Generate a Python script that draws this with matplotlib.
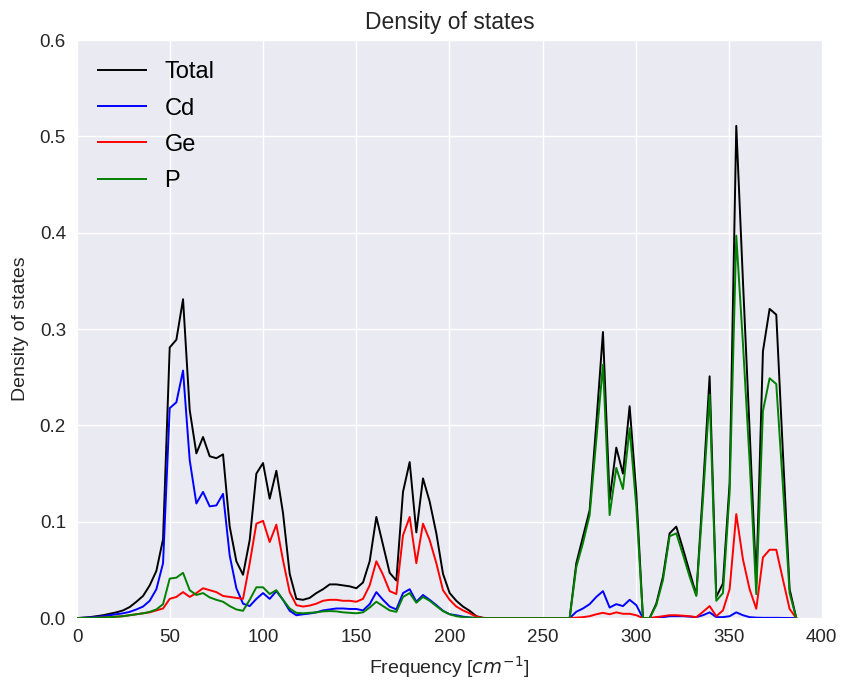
import numpy as np
import matplotlib
matplotlib.use('Agg')
import matplotlib.pyplot as plt

# frequency grid of the DOS file (cm^-1), 109 points
freq_start = -0.35
freq_step = 3.58
n_points = 109

total = [0, 0.0005, 0.001, 0.002, 0.003, 0.0045, 0.006, 0.008, 0.0115, 0.017, 0.023, 0.034, 0.049, 0.082,
         0.281, 0.289, 0.331, 0.216, 0.171, 0.188, 0.168, 0.166, 0.170, 0.095, 0.059, 0.045, 0.081, 0.150, 0.161,
         0.124, 0.153, 0.109, 0.046, 0.020, 0.019, 0.021, 0.026, 0.030, 0.035, 0.035, 0.034, 0.033, 0.031,
         0.037, 0.059, 0.105, 0.076, 0.047, 0.039, 0.131, 0.162, 0.089, 0.145, 0.121, 0.088, 0.046, 0.026, 0.018,
         0.012, 0.0076, 0.002, 0.0003,
         0, 0, 0, 0, 0, 0, 0, 0, 0, 0, 0, 0, 0,
         0.057, 0.0845, 0.112, 0.202, 0.297, 0.123, 0.177, 0.150, 0.220, 0.130,
         0, 0,
         0.015, 0.043, 0.088, 0.095, 0.072, 0.048, 0.024, 0.133, 0.251, 0.022, 0.036, 0.140,
         0.511, 0.350, 0.195, 0.036, 0.277, 0.321, 0.315, 0.171, 0.030, 0]

cd = [0, 0.0003, 0.0007, 0.0013, 0.002, 0.003, 0.004, 0.005, 0.0065, 0.009, 0.012, 0.018, 0.030, 0.057,
      0.218, 0.224, 0.257, 0.164, 0.119, 0.131, 0.116, 0.117, 0.129, 0.065, 0.031, 0.015, 0.0125, 0.020, 0.026,
      0.020, 0.028, 0.019, 0.0076, 0.003, 0.004, 0.0048, 0.006, 0.008, 0.009, 0.010, 0.010, 0.0095, 0.0095,
      0.008, 0.0145, 0.027, 0.019, 0.012, 0.009, 0.026, 0.030, 0.017, 0.024, 0.019, 0.0135, 0.0076, 0.004, 0.003,
      0.0015, 0.0007, 0.0002, 0,
      0, 0, 0, 0, 0, 0, 0, 0, 0, 0, 0, 0, 0,
      0.0066, 0.010, 0.0145, 0.022, 0.028, 0.011, 0.0145, 0.0125, 0.019, 0.0135,
      0, 0,
      0.0005, 0.001, 0.002, 0.002, 0.002, 0.0015, 0.001, 0.003, 0.006, 0.001, 0.001, 0.002,
      0.006, 0.003, 0.001, 0.0005, 0.0003, 0.0003, 0.0003, 0.0002, 0.0001, 0]

ge = [0, 0.0001, 0.0002, 0.0004, 0.0006, 0.001, 0.0015, 0.002, 0.003, 0.004, 0.005, 0.006, 0.008, 0.010,
      0.020, 0.022, 0.027, 0.022, 0.026, 0.031, 0.029, 0.027, 0.023, 0.022, 0.021, 0.020, 0.057, 0.098, 0.101,
      0.079, 0.097, 0.060, 0.027, 0.0135, 0.012, 0.013, 0.015, 0.018, 0.019, 0.019, 0.018, 0.018, 0.017,
      0.020, 0.034, 0.059, 0.045, 0.028, 0.025, 0.086, 0.105, 0.057, 0.098, 0.081, 0.057, 0.029, 0.019, 0.012,
      0.008, 0.005, 0.0015, 0.0002,
      0, 0, 0, 0, 0, 0, 0, 0, 0, 0, 0, 0, 0,
      0.0005, 0.001, 0.002, 0.004, 0.0055, 0.004, 0.006, 0.0045, 0.0045, 0.003,
      0, 0,
      0.001, 0.002, 0.003, 0.003, 0.0025, 0.002, 0.001, 0.0065, 0.0125, 0.002, 0.008, 0.030,
      0.108, 0.061, 0.030, 0.0097, 0.063, 0.071, 0.071, 0.040, 0.0095, 0]

p = [0, 0.0001, 0.0002, 0.0004, 0.0006, 0.001, 0.0015, 0.002, 0.003, 0.004, 0.005, 0.0065, 0.009, 0.0145,
     0.041, 0.042, 0.047, 0.029, 0.024, 0.026, 0.0215, 0.019, 0.017, 0.0125, 0.009, 0.0076, 0.019, 0.032, 0.032,
     0.025, 0.029, 0.019, 0.010, 0.0055, 0.005, 0.0055, 0.006, 0.007, 0.0073, 0.007, 0.006, 0.0055, 0.005,
     0.006, 0.011, 0.017, 0.0125, 0.008, 0.0065, 0.022, 0.026, 0.016, 0.022, 0.018, 0.0125, 0.0073, 0.004, 0.002,
     0.001, 0.0005, 0.0002, 0,
     0, 0, 0, 0, 0, 0, 0, 0, 0, 0, 0, 0, 0,
     0.053, 0.078, 0.107, 0.185, 0.263, 0.107, 0.156, 0.134, 0.197, 0.116,
     0, 0,
     0.0135, 0.0395, 0.085, 0.088, 0.066, 0.043, 0.023, 0.123, 0.232, 0.018, 0.026, 0.130,
     0.397, 0.285, 0.163, 0.025, 0.215, 0.249, 0.243, 0.137, 0.026, 0]

labels = ['Total', 'Cd', 'Ge', 'P']
colors = ['k', 'b', 'r', 'g']

freq = freq_start + freq_step*np.arange(n_points)

plt.rcParams['font.family'] = ['Liberation Sans', 'DejaVu Sans']

fig = plt.figure(figsize=(8.42, 6.8), dpi=100)
ax = fig.add_axes([0.0915, 0.091, 0.8845, 0.850])
ax.set_facecolor('#EAEAF2')
for s in ax.spines.values():
    s.set_visible(False)
ax.grid(True, color='white', linewidth=1.0)
ax.set_axisbelow(True)

for y, lab, c in zip([total, cd, ge, p], labels, colors):
    ax.plot(freq, y, color=c, label=lab, linewidth=1.4)

ax.set_xlim(0, 400)
ax.set_ylim(0, 0.6)
ax.set_xticks(np.arange(0, 401, 50))
ax.set_yticks(np.arange(0, 0.61, 0.1))
ax.set_yticklabels(['%.1f' % v for v in np.arange(0, 0.61, 0.1)])
ax.tick_params(length=0, labelsize=13.5, colors='#262626', pad=8)

ax.set_title('Density of states', fontsize=16.5, color='#262626', pad=8)
ax.set_xlabel('Frequency [$cm^{-1}$]', fontsize=14, color='#262626', labelpad=6)
ax.set_ylabel('Density of states', fontsize=14, color='#262626', labelpad=8)

ax.legend(loc='upper left', frameon=False, fontsize=17, handlelength=2.0,
          labelspacing=0.6)

plt.savefig('out.png', dpi=100)
